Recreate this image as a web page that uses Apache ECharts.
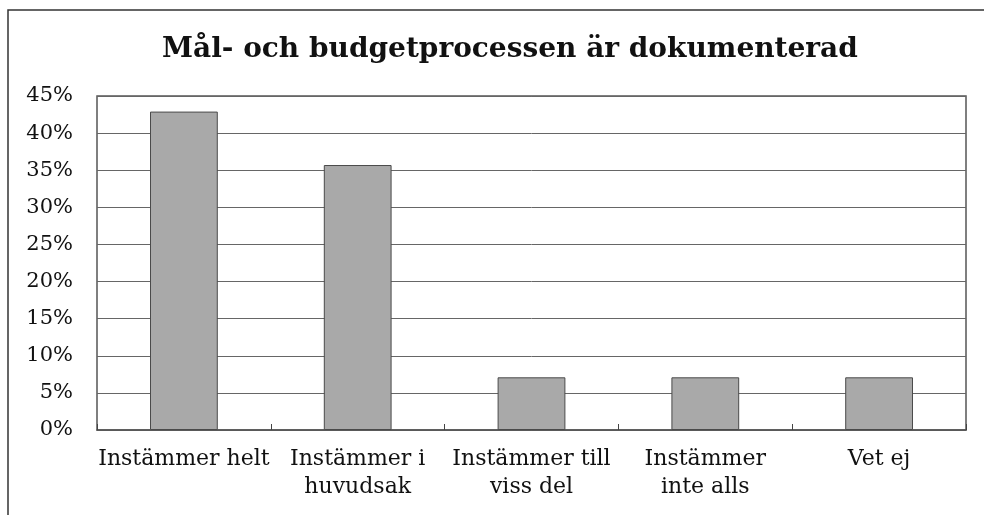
<!DOCTYPE html>
<html>
<head>
<meta charset="utf-8">
<script src="https://cdn.jsdelivr.net/npm/echarts@6/dist/echarts.min.js"></script>
<style>
  html, body { margin: 0; padding: 0; background: #fff; }
  #chart { width: 984px; height: 515px; }
</style>
</head>
<body>
<div id="chart"></div>
<script>
// data
const categories = ['Instämmer helt', 'Instämmer i\nhuvudsak', 'Instämmer till\nviss del', 'Instämmer\ninte alls', 'Vet ej']
const shares = [42.9, 35.7, 7.1, 7.1, 7.1]
const yTicks = [0, 5, 10, 15, 20, 25, 30, 35, 40, 45]

const serif = '"DejaVu Serif", "Liberation Serif", serif'
const chart = echarts.init(document.getElementById('chart'))

const option = {
  backgroundColor: '#fff',
  animation: false,
  title: {
    text: 'Mål- och budgetprocessen är dokumenterad',
    left: 157,
    top: 31,
    textStyle: { fontFamily: serif, fontWeight: 'bold', fontSize: 28, color: '#111' }
  },
  graphic: [{
    // outer frame, only left and top edges are in view
    type: 'rect',
    shape: { x: 8, y: 10, width: 1200, height: 800 },
    style: { fill: 'none', stroke: '#333', lineWidth: 1.5 },
    silent: true
  }],
  grid: { left: 97, right: 18, top: 96, bottom: 85, show: true, borderColor: '#555', borderWidth: 1.5 },
  xAxis: {
    type: 'category',
    data: categories,
    axisLine: { lineStyle: { color: '#555', width: 1.5 } },
    axisTick: { show: true, inside: true, length: 6, lineStyle: { color: '#444' } },
    axisLabel: { fontFamily: serif, fontSize: 22, color: '#111', margin: 15, lineHeight: 28, interval: 0 }
  },
  yAxis: {
    type: 'value',
    min: yTicks[0],
    max: yTicks[yTicks.length - 1],
    interval: 5,
    axisLine: { show: false },
    axisTick: { show: false },
    axisLabel: { fontFamily: serif, fontSize: 21, color: '#111', margin: 24, formatter: '{value}%' },
    splitLine: { lineStyle: { color: '#666', width: 1 } }
  },
  series: [{
    type: 'bar',
    data: shares,
    barWidth: '39%',
    itemStyle: { color: '#a9a9a9', borderColor: '#4a4a4a', borderWidth: 1 }
  }]
}

chart.setOption(option)
</script>
</body>
</html>
